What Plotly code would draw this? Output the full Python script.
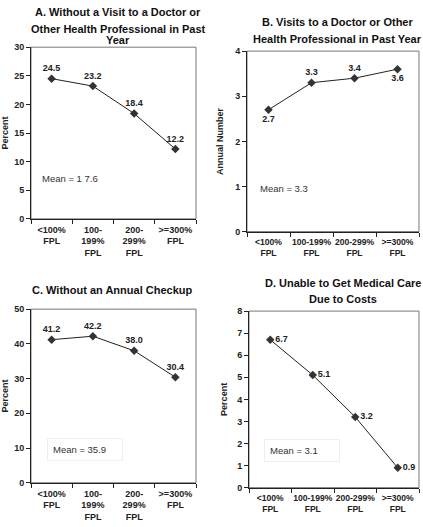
import plotly.graph_objects as go

# ---- data ----
cats_narrow = ["<100%<br>FPL", "100-<br>199%<br>FPL", "200-<br>299%<br>FPL", ">=300%<br>FPL"]
cats_wide = ["<100%<br>FPL", "100-199%<br>FPL", "200-299%<br>FPL", ">=300%<br>FPL"]

no_visit_pct = [24.5, 23.2, 18.4, 12.2]
visits_num = [2.7, 3.3, 3.4, 3.6]
no_checkup_pct = [41.2, 42.2, 38.0, 30.4]
unable_cost_pct = [6.7, 5.1, 3.2, 0.9]

titles = [
    ["A. Without a Visit to a Doctor or", "Other Health Professional in Past", "Year"],
    ["B. Visits to a Doctor or Other", "Health Professional in Past Year"],
    ["C. Without an Annual Checkup"],
    ["D. Unable to Get Medical Care", "Due to Costs"],
]
mean_texts = ["Mean = 1 7.6", "Mean = 3.3", "Mean = 35.9", "Mean = 3.1"]
y_titles = ["Percent", "Annual Number", "Percent", "Percent"]
y_ranges = [[0, 30], [0, 4], [0, 50], [0, 8]]
y_dticks = [5, 1, 10, 1]

W, H = 423, 527
FONT = "Arial, Liberation Sans, sans-serif"

# pixel boxes: left, right, top, bottom
boxes = [(31, 196, 43, 218), (247, 419, 47, 231), (31, 196, 310, 487), (249, 419, 312, 492)]
title_pos = [(118, [7.5, 24.5, 35.5]), (337, [17.5, 35]), (112, [290.5]), (343, [283, 300])]
mean_pos = [(0.236, 0.234, False), (0.218, 0.237, False), (0.33, 0.19, True), (0.31, 0.21, True)]
standoffs = [4, 10, 4, 8]
tick_sizes = [9, 8.6, 9, 8.6]

series = [
    (cats_narrow, no_visit_pct, ["top center"] * 4),
    (cats_wide, visits_num, ["bottom center", "top center", "top center", "bottom center"]),
    (cats_narrow, no_checkup_pct, ["top center"] * 4),
    (cats_wide, unable_cost_pct, ["middle right"] * 4),
]

fig = go.Figure()
annotations = []
shapes = []
layout = {}
for i, ((cats, vals, tpos), (l, r, t, b)) in enumerate(zip(series, boxes)):
    k = "" if i == 0 else str(i + 1)
    fig.add_trace(go.Scatter(
        x=cats, y=vals, xaxis="x" + k, yaxis="y" + k,
        mode="lines+markers+text",
        text=[f"{v:.1f}" for v in vals], textposition=tpos,
        textfont=dict(family=FONT, size=9, color="#222", weight="bold"),
        line=dict(color="#222", width=1),
        marker=dict(symbol="diamond", size=6.5, color="#333"),
        showlegend=False, cliponaxis=False, hoverinfo="skip",
    ))
    layout["xaxis" + k] = dict(
        domain=[l / W, r / W], anchor="y" + k, type="category",
        categoryorder="array", categoryarray=cats,
        range=[-0.5, 3.5], tickson="boundaries", ticks="outside", ticklen=4,
        tickangle=0, ticklabelstandoff=2,
        tickcolor="#222", showline=True, linecolor="#222", linewidth=1,
        showgrid=False, zeroline=False, fixedrange=True,
        tickfont=dict(family=FONT, size=tick_sizes[i], color="#222", weight="bold"),
    )
    layout["yaxis" + k] = dict(
        domain=[1 - b / H, 1 - t / H], anchor="x" + k,
        range=y_ranges[i], dtick=y_dticks[i], ticks="outside", ticklen=4,
        tickcolor="#222", showline=True, linecolor="#222", linewidth=1,
        showgrid=False, zeroline=False, fixedrange=True,
        tickfont=dict(family=FONT, size=9, color="#222", weight="bold"),
        title=dict(text=y_titles[i], standoff=standoffs[i],
                   font=dict(family=FONT, size=9, color="#222", weight="bold")),
    )
    shapes.append(dict(type="rect", xref=f"x{k} domain", yref=f"y{k} domain",
                       x0=0, x1=1, y0=0, y1=1, line=dict(color="#777", width=1),
                       layer="below"))
    cx, ys = title_pos[i]
    for line_text, yy in zip(titles[i], ys):
        annotations.append(dict(text=line_text, xref="paper", yref="paper",
                                x=cx / W, y=1 - yy / H, xanchor="center", yanchor="middle",
                                showarrow=False,
                                font=dict(family=FONT, size=11, color="#111", weight="bold")))
    mx, my, boxed = mean_pos[i]
    ann = dict(text=mean_texts[i], xref=f"x{k} domain", yref=f"y{k} domain",
               x=mx, y=my, xanchor="center", yanchor="middle", showarrow=False,
               font=dict(family=FONT, size=9.5, color="#333"))
    if boxed:
        ann.update(bordercolor="#eeeeee", borderwidth=1, borderpad=5, width=64, align="left")
    annotations.append(ann)

fig.update_layout(
    width=W, height=H, margin=dict(l=0, r=0, t=0, b=0),
    paper_bgcolor="white", plot_bgcolor="white", hovermode=False,
    annotations=annotations, shapes=shapes, **layout,
)
fig.write_html(
    "out.html",
    config={"displayModeBar": False, "staticPlot": True},
    post_script="document.body.style.margin='0';document.body.style.overflow='hidden';",
)
